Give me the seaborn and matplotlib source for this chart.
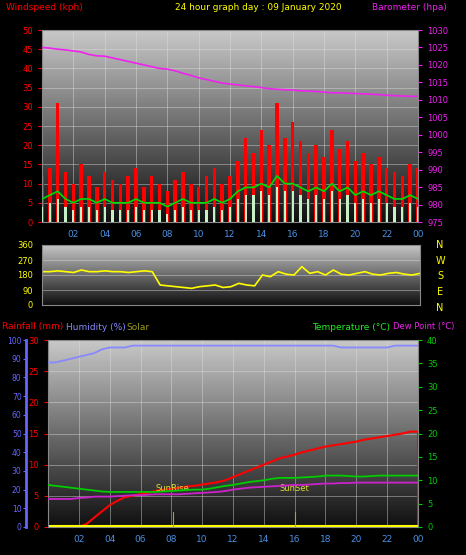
import numpy as np
import pandas as pd
import matplotlib
matplotlib.use("Agg")
import matplotlib.pyplot as plt
import seaborn as sns

sns.set_style("dark")
plt.rcParams['font.family'] = ['DejaVu Sans']

# half-hourly data (hour of day)
hours = [i*0.5 for i in range(49)]
gust = [12,14,31,13,10,15,12,9,13,11,10,12,14,9,12,10,8,11,13,10,9,12,14,10,12,16,22,18,24,20,31,22,26,21,18,20,17,24,19,21,16,18,15,17,14,13,12,15,14]
avg_wind = [6,7,8,6,5,6,6,5,6,5,5,5,6,5,5,5,4,5,6,5,5,5,6,5,6,8,9,9,10,9,12,10,10,9,8,9,8,10,8,9,7,8,7,8,7,6,6,7,6]
speed = [4,5,6,4,3,4,4,3,4,3,3,3,4,3,3,3,2,3,4,3,3,3,4,3,4,6,7,7,8,7,9,8,8,7,6,7,6,8,6,7,5,6,5,6,5,4,4,5,4]
baro = [1025,1024.8,1024.5,1024.3,1024,1023.7,1023,1022.6,1022.5,1022,1021.5,1021,1020.5,1020,1019.5,1019,1018.8,1018.3,1017.6,1017,1016.3,1015.8,1015.3,1014.8,1014.5,1014.3,1014,1013.8,1013.5,1013.2,1013,1012.9,1012.8,1012.6,1012.5,1012.4,1012.2,1012,1012,1011.9,1011.8,1011.7,1011.6,1011.5,1011.3,1011.2,1011.1,1011,1011]
direction = [200,200,205,200,195,210,200,200,205,200,200,195,200,205,200,120,115,110,105,100,110,115,120,105,110,130,120,115,180,170,200,185,180,230,190,200,180,210,185,180,190,200,185,180,190,195,185,180,190]
humidity = [88,88,89,90,91,92,93,95,96,96,96,97,97,97,97,97,97,97,97,97,97,97,97,97,97,97,97,97,97,97,97,97,97,97,97,97,97,97,96,96,96,96,96,96,96,97,97,97,97]
rain = [0,0,0,0,0,0.5,1.5,2.5,3.5,4.2,4.8,5,5.3,5.5,5.8,6,6.1,6.3,6.5,6.6,6.8,7,7.2,7.5,8,8.5,9,9.5,10,10.5,11,11.3,11.6,12,12.3,12.6,12.9,13.1,13.3,13.5,13.7,14,14.2,14.4,14.6,14.8,15,15.3,15.3]
temp = [9,8.8,8.6,8.4,8.2,8,7.8,7.6,7.5,7.5,7.5,7.5,7.5,7.5,7.5,7.6,7.7,7.8,7.9,8,8,8.2,8.5,8.8,9,9.3,9.6,9.8,10,10.3,10.5,10.5,10.5,10.6,10.7,10.8,11,11,11,10.9,10.8,10.8,10.9,11,11,11,11,11,11]
dew = [6,6,6,6,6.2,6.3,6.5,6.5,6.5,6.6,6.7,6.8,6.8,6.9,7,7,7,7,7.1,7.2,7.3,7.4,7.5,7.7,8,8.2,8.4,8.5,8.6,8.7,8.8,8.9,9,9,9.1,9.2,9.3,9.3,9.4,9.4,9.5,9.5,9.5,9.5,9.5,9.5,9.5,9.5,9.5]
xticks = [2,4,6,8,10,12,14,16,18,20,22,24]
xlabels = ["02","04","06","08","10","12","14","16","18","20","22","00"]

df = pd.DataFrame(dict(h=hours, gust=gust, avg=avg_wind, speed=speed, baro=baro, dir=direction,
                       hum=humidity, rain=rain, temp=temp, dew=dew))

fig = plt.figure(figsize=(4.66, 5.55), dpi=100, facecolor='black')
W, H = 466, 555
def axrect(x0, y0, x1, y1):
    return [x0/W, 1-y1/H, (x1-x0)/W, (y1-y0)/H]

def bg(ax):
    g = np.linspace(0, 1, 100).reshape(-1, 1)
    ax.imshow(g, cmap=matplotlib.colors.LinearSegmentedColormap.from_list('g', ['#c8c8c8', '#101010']),
              extent=[0, 1, 0, 1], transform=ax.transAxes, aspect='auto', zorder=0)
    ax.grid(True, color='#e0e0e0', alpha=0.5, lw=0.6, zorder=1)
    for s in ax.spines.values():
        s.set_color('#888888')

def style_ticks(ax, color):
    ax.tick_params(axis='y', colors=color, labelsize=6, length=3)
    ax.tick_params(axis='x', colors='#4a90e2', labelsize=6.5, length=2)

# top panel
ax1 = fig.add_axes(axrect(42, 30, 418, 222))
bg(ax1)
ax1.bar(df.h, df.gust, width=0.22, color='red', lw=0, zorder=2)
ax1.bar(df.h, df.speed, width=0.14, color='#c8f0c8', lw=0, zorder=3)
sns.lineplot(data=df, x='h', y='avg', ax=ax1, color='#00dd00', lw=1.2, zorder=4)
ax1.set_xlim(0, 24); ax1.set_ylim(0, 50)
ax1.set_yticks(range(0, 51, 5))
ax1.set_xticks(xticks); ax1.set_xticklabels(xlabels)
ax1.set_xlabel(''); ax1.set_ylabel('')
style_ticks(ax1, 'red')
ax1b = ax1.twinx()
sns.lineplot(data=df, x='h', y='baro', ax=ax1b, color='#ee22ee', lw=1.2)
ax1b.set_ylim(975, 1030); ax1b.set_yticks(range(975, 1031, 5)); ax1b.set_ylabel('')
ax1b.tick_params(axis='y', colors='#ee22ee', labelsize=6, length=3)
for s in ax1b.spines.values(): s.set_visible(False)
fig.text(6/W, 1-7/H, 'Windspeed (kph)', color='red', fontsize=6.5, va='center')
fig.text(258/W, 1-7/H, '24 hour graph day : 09 January 2020', color='yellow', fontsize=6.5, va='center', ha='center')
fig.text(372/W, 1-7/H, 'Barometer (hpa)', color='#ee22ee', fontsize=6.5, va='center')

# middle panel
ax2 = fig.add_axes(axrect(42, 245, 420, 305))
bg(ax2)
sns.lineplot(data=df, x='h', y='dir', ax=ax2, color='yellow', lw=1.2)
ax2.set_xlim(0, 24); ax2.set_ylim(0, 360)
ax2.set_yticks([0, 90, 180, 270, 360]); ax2.set_xticks([])
ax2.set_xlabel(''); ax2.set_ylabel('')
ax2.tick_params(axis='y', colors='yellow', labelsize=6, length=3)
for lab, yy in zip(['N', 'W', 'S', 'E', 'N'], [245, 261, 276, 292, 308]):
    fig.text(440/W, 1-yy/H, lab, color='yellow', fontsize=7, va='center', ha='center')

# bottom panel
ax3 = fig.add_axes(axrect(48, 340, 418, 527))
bg(ax3)
sns.lineplot(data=df, x='h', y='rain', ax=ax3, color='red', lw=1.5)
ax3.plot([24, 24], [15.3, 0], color='red', lw=1.5)
ax3.set_xlim(0, 24); ax3.set_ylim(0, 30)
ax3.set_yticks(range(0, 31, 5))
ax3.set_xticks(xticks); ax3.set_xticklabels(xlabels)
ax3.set_xlabel(''); ax3.set_ylabel('')
style_ticks(ax3, 'red')
ax3.plot([0, 24], [0.2, 0.2], color='yellow', lw=1.5)
for x, t in [(8.1, 'SunRise'), (16, 'SunSet')]:
    ax3.axvline(x, ymax=0.08, color='#aaaa22', lw=0.8)
    ax3.text(x, 5.8, t, color='#dddd33', fontsize=6, ha='center')
ax3c = ax3.twinx()
sns.lineplot(data=df, x='h', y='temp', ax=ax3c, color='#00cc00', lw=1.3)
sns.lineplot(data=df, x='h', y='dew', ax=ax3c, color='#cc22cc', lw=1.3)
ax3c.set_ylim(0, 40); ax3c.set_yticks(range(0, 41, 5)); ax3c.set_ylabel('')
ax3c.tick_params(axis='y', colors='#00cc00', labelsize=6, length=3)
for s in ax3c.spines.values(): s.set_visible(False)
ax3h = ax3.twinx()
sns.lineplot(data=df, x='h', y='hum', ax=ax3h, color='#8888ff', lw=1.3)
ax3h.set_ylim(0, 100); ax3h.set_ylabel('')
ax3h.yaxis.set_ticks_position('left')
ax3h.spines['left'].set_position(('outward', 16))
ax3h.spines['left'].set_color('#6666ff'); ax3h.spines['left'].set_linewidth(2)
ax3h.set_yticks(range(0, 101, 10))
ax3h.tick_params(axis='y', colors='#6666ff', labelsize=5.5, length=2, pad=1)
for k in ['right', 'top', 'bottom']: ax3h.spines[k].set_visible(False)
fig.text(2/W, 1-327/H, 'Rainfall (mm)', color='red', fontsize=6.5, va='center')
fig.text(66/W, 1-327/H, 'Humidity (%)', color='#8888ff', fontsize=6.5, va='center')
fig.text(126/W, 1-327/H, 'Solar', color='#999922', fontsize=6.5, va='center')
fig.text(312/W, 1-327/H, 'Temperature (°C)', color='#22ee22', fontsize=6.5, va='center')
fig.text(393/W, 1-327/H, 'Dew Point (°C)', color='#ee22ee', fontsize=6, va='center')

fig.savefig('out.png', dpi=100, facecolor='black')
